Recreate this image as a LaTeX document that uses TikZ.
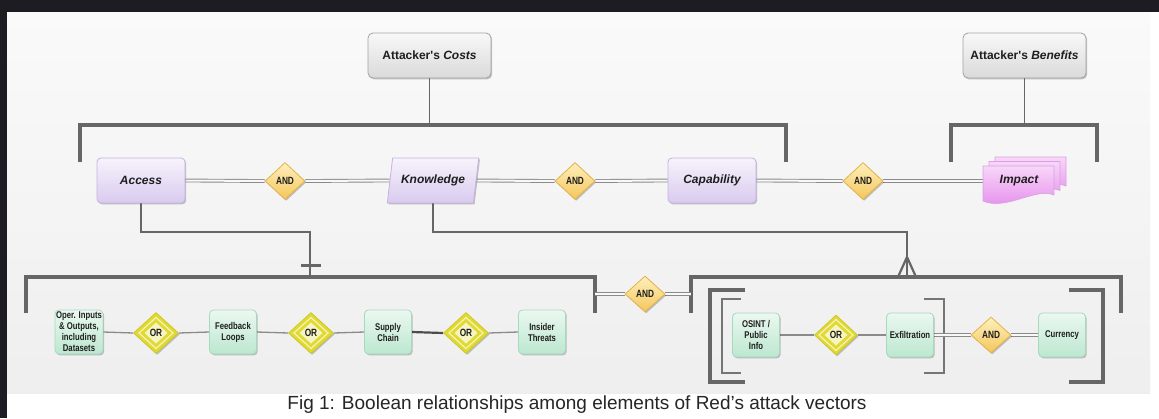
\documentclass[tikz,border=0pt]{standalone}
\usepackage{fontspec}
\setmainfont{Liberation Sans}[Ligatures=TeXOff]
\newfontfamily\condfont{Liberation Sans}[FakeStretch=0.79]
\usetikzlibrary{shapes.geometric,shadows}
\pgfdeclarelayer{bg}
\pgfdeclarelayer{canvas}
\pgfsetlayers{canvas,bg,main}
\definecolor{frame}{HTML}{1C1C22}
\definecolor{hdrline}{HTML}{A2A2A2}
\definecolor{hdrtop}{HTML}{F8F8F8}
\definecolor{hdrbot}{HTML}{DADADA}
\definecolor{purline}{HTML}{C8B2E2}
\definecolor{purtop}{HTML}{F7F3FC}
\definecolor{purbot}{HTML}{D9CAEF}
\definecolor{grnline}{HTML}{A6DABE}
\definecolor{grntop}{HTML}{EBF8F1}
\definecolor{grnbot}{HTML}{BCE7CF}
\definecolor{andline}{HTML}{E3B24A}
\definecolor{andtop}{HTML}{FDF0BC}
\definecolor{andbot}{HTML}{F5C65C}
\definecolor{oryel}{HTML}{E0DA32}
\definecolor{orline}{HTML}{CFC82A}
\definecolor{orpale}{HTML}{F6F4C2}
\definecolor{pinktop}{HTML}{F8D6F8}
\definecolor{pinkbot}{HTML}{E488EC}
\definecolor{pinkline}{HTML}{D9A2E2}
\definecolor{brk}{HTML}{666666}
\definecolor{lnk}{HTML}{8A8A8A}
\definecolor{txt}{HTML}{1E1E1E}
\begin{document}
\begin{tikzpicture}[x=1pt,y=-1pt,
  shadowed/.style={drop shadow={shadow xshift=1.2pt,shadow yshift=-1.4pt,opacity=.22,fill=black}},
  hdr/.style={shadowed,rectangle,rounded corners=5pt,draw=hdrline,line width=0.8pt,top color=hdrtop,bottom color=hdrbot,
    minimum width=123pt,minimum height=45pt,inner sep=2pt,text=txt,font=\bfseries\fontsize{12}{14}\selectfont},
  ent/.style={shadowed,rectangle,rounded corners=4pt,draw=purline,line width=0.8pt,top color=purtop,bottom color=purbot,
    minimum width=88pt,minimum height=45pt,inner sep=2pt,text=txt,font=\bfseries\itshape\fontsize{12}{14}\selectfont},
  parall/.style={shadowed,trapezium,trapezium left angle=71.6,trapezium right angle=108.4,trapezium stretches=true,
    draw=purline,line width=0.8pt,top color=purtop,bottom color=purbot,
    minimum width=92pt,minimum height=45pt,inner sep=1pt,text=txt,font=\bfseries\itshape\fontsize{12}{14}\selectfont},
  grn/.style={shadowed,rectangle,rounded corners=4pt,draw=grnline,line width=0.8pt,top color=grntop,bottom color=grnbot,
    minimum width=47pt,minimum height=44pt,inner sep=1pt,align=center,text=txt,
    font=\condfont\bfseries\fontsize{9.8}{11}\selectfont},
  andd/.style={shadowed,diamond,draw=andline,line width=0.8pt,top color=andtop,bottom color=andbot,
    minimum width=40pt,minimum height=37pt,inner sep=0pt,text=txt,font=\condfont\bfseries\fontsize{10.5}{11}\selectfont},
  ord/.style={shadowed,diamond,draw=orline,line width=0.8pt,fill=oryel,
    minimum width=45pt,minimum height=41pt,inner sep=0pt,text=txt,font=\condfont\bfseries\fontsize{10.5}{11}\selectfont,
    path picture={
      \fill[orpale] (path picture bounding box.center) ++(0,10.5) -- ++(11.5,-10.5) -- ++(-11.5,-10.5) -- ++(-11.5,10.5) -- cycle;
      \draw[orpale,line width=1.1pt] (path picture bounding box.center) ++(0,15.5) -- ++(17,-15.5) -- ++(-17,-15.5) -- ++(-17,15.5) -- cycle;
    }},
  bracket/.style={draw=brk,line width=4pt},
  thinbracket/.style={draw=brk!90!white,line width=2pt},
  stem/.style={draw=brk,line width=1.6pt},
  tie/.style={draw=brk,line width=2.2pt},
  link/.style={draw=lnk,line width=1.3pt},
  strong/.style={draw=black!70,line width=2.2pt},
  dlink/.style={draw=lnk,line width=0.9pt,double=hdrtop,double distance=2pt},
  page/.style={draw=pinkline,line width=0.7pt,top color=pinktop,bottom color=pinkbot},
]
\useasboundingbox (0,0) rectangle (1159,418);
% background and frame
\begin{pgfonlayer}{canvas}
\fill[white] (0,0) rectangle (1159,418);
\fill[frame] (0,0) rectangle (1159,12);
\fill[frame] (0,0) rectangle (7,418);
\shade[top color=black!2,bottom color=black!6.5] (7,12) rectangle (1150,393);
\end{pgfonlayer}

% top headers
\node[hdr] (costs) at (429.5,55.5) {Attacker's \textit{Costs}};
\node[hdr] (benefits) at (1024.5,55.5) {Attacker's \textit{Benefits}};

% main row
\node[ent] (access) at (141,180.5) {Access};
\node[andd] (and1) at (285,181) {AND};
\node[parall] (know) at (433,180.5) {Knowledge};
\node[andd] (and2) at (575,181) {AND};
\node[ent] (cap) at (712,180.5) {Capability};
\node[andd] (and3) at (863,181) {AND};
% impact: stacked documents
\foreach \dx/\dy in {12/-9,6/-4.5,0/0}{
  \draw[page,shift={(\dx,\dy)}] (983,166) -- (1054,166) -- (1054,195)
     .. controls (1036,187) and (1006,211) .. (983,201) -- cycle;
}
\node[minimum width=71pt,minimum height=30pt,inner sep=0pt,text=txt,
      font=\bfseries\itshape\fontsize{12}{14}\selectfont] (impact) at (1019,181) {Impact};

% lower row left
\node[grn] (oper) at (79,332) {Oper. Inputs\\\& Outputs,\\including\\Datasets};
\node[ord] (or1) at (156,333) {OR};
\node[grn] (feed) at (233,332) {Feedback\\Loops};
\node[ord] (or2) at (311,333) {OR};
\node[grn] (supply) at (388,332) {Supply\\Chain};
\node[ord] (or3) at (466,333) {OR};
\node[grn] (insider) at (542,332) {Insider\\Threats};

\node[andd,minimum width=40pt,minimum height=36pt] (and4) at (645,294) {AND};

% lower row right
\node[grn] (osint) at (756,335) {OSINT /\\Public\\Info};
\node[ord,minimum width=43pt,minimum height=40pt] (or4) at (836,335) {OR};
\node[grn] (exfil) at (910,335) {Exfiltration};
\node[andd,minimum width=40pt,minimum height=36pt] (and5) at (991,335) {AND};
\node[grn] (currency) at (1062,335) {Currency};

% helper coordinates
\coordinate (topbar) at (0,125);
\coordinate (lowbar) at (0,277);
\coordinate (mid) at (0,232);
\coordinate (lbr) at (595,294);
\coordinate (rbr) at (691,294);
\coordinate (acc) at (310,232);
\coordinate (kno) at (907,232);

\begin{pgfonlayer}{bg}
  % brackets
  \draw[bracket] (80,162) |- (786,125) -- (786,162);
  \draw[bracket] (951,162) |- (1097,125) -- (1097,162);
  \draw[bracket] (26,313) |- (595,277) -- (595,313);
  \draw[bracket] (691,313) |- (1121,277) -- (1121,313);
  \draw[bracket] (745,290) -| (710,382) -- (745,382);
  \draw[bracket] (1069,290) -| (1103,382) -- (1069,382);
  \draw[thinbracket] (741,299) -| (722,373) -- (741,373);
  \draw[thinbracket] (924,299) -| (944,373) -- (924,373);
  % stems to headers
  \draw[stem] (costs.south) -- (costs.south |- topbar);
  \draw[stem] (benefits.south) -- (benefits.south |- topbar);
  % access / knowledge ties
  \draw[tie] (access.south) -- (access.south |- mid) -- (acc) -- (acc |- lowbar);
  \draw[line width=3pt,draw=brk] (301,265) -- (321,265);
  \draw[tie] (know.south) -- (know.south |- mid) -- (kno) -- (kno |- lowbar);
  \draw[tie] (907,257) -- (898,277);
  \draw[tie] (907,257) -- (916,277);
  % main row double links
  \draw[dlink] (access.east) -- (and1.west);
  \draw[dlink] (and1.east) -- (know.west);
  \draw[dlink] (know.east) -- (and2.west);
  \draw[dlink] (and2.east) -- (cap.west);
  \draw[dlink] (cap.east) -- (and3.west);
  \draw[dlink] (and3.east) -- (impact.west);
  % lower links
  \draw[link] (oper.east) -- (or1.west);
  \draw[link] (or1.east) -- (feed.west);
  \draw[link] (feed.east) -- (or2.west);
  \draw[link] (or2.east) -- (supply.west);
  \draw[strong] (supply.east) -- (or3.west);
  \draw[link] (or3.east) -- (insider.west);
  \draw[dlink] (lbr) -- (and4.west);
  \draw[dlink] (and4.east) -- (rbr);
  \draw[link] (osint.east) -- (or4.west);
  \draw[link] (or4.east) -- (exfil.west);
  \draw[dlink] (exfil.east) -- (and5.west);
  \draw[dlink] (and5.east) -- (currency.west);
\end{pgfonlayer}

% caption
\node[text=black!85,font=\fontsize{19}{22}\selectfont] (caption) at (577,405) {Fig 1: Boolean relationships among elements of Red’s attack vectors};
\end{tikzpicture}
\end{document}
